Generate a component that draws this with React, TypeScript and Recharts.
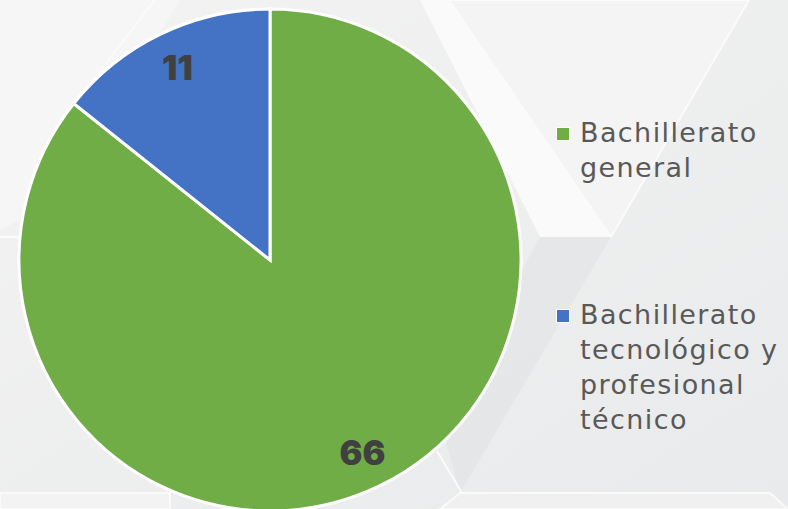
import React from "react";
import { PieChart, Pie, Cell, Legend } from "recharts";

const categories = ["Bachillerato general", "Bachillerato tecnológico y profesional técnico"];
const values = [66, 11];
const colors = ["#70AD47", "#4472C4"];

const data = categories.map((name, i) => ({ name, value: values[i] }));

const RAD = Math.PI / 180;

const renderLabel = (props: any) => {
  const { cx, cy, midAngle, outerRadius, value } = props;
  const r = outerRadius * 0.85;
  const x = cx + r * Math.cos(-midAngle * RAD);
  const y = cy + r * Math.sin(-midAngle * RAD);
  return (
    <text
      x={x}
      y={y}
      fill="#404040"
      textAnchor="middle"
      dominantBaseline="central"
      fontFamily="Inter, 'DejaVu Sans', sans-serif"
      fontWeight={900}
      fontSize={34}
    >
      {value}
    </text>
  );
};

const renderLegend = (props: any) => {
  const { payload } = props;
  return (
    <div style={{ fontFamily: "'DejaVu Sans', sans-serif", fontSize: 27, letterSpacing: "1.4px", color: "#595959", lineHeight: "35px" }}>
      {payload.map((entry: any, i: number) => (
        <div key={i} style={{ display: "flex", alignItems: "flex-start", marginBottom: i === 0 ? 112 : 0 }}>
          <div style={{ width: 12, height: 12, background: entry.color, border: "1.5px solid #fff", marginTop: 12, marginRight: 10, flex: "none" }} />
          <div style={{ width: 205 }}>{entry.value}</div>
        </div>
      ))}
    </div>
  );
};

const Background = () => (
  <svg width={788} height={509} style={{ position: "absolute", left: 0, top: 0 }}>
    <defs>
      <linearGradient id="bg" x1="0" y1="0" x2="1" y2="1">
        <stop offset="0" stopColor="#f3f3f3" />
        <stop offset="1" stopColor="#e9eaeb" />
      </linearGradient>
    </defs>
    <rect x={0} y={0} width={788} height={509} fill="url(#bg)" />
    <polygon points="449,0 749,0 611,237" fill="#f4f4f4" stroke="#fbfbfb" strokeWidth={2} />
    <polygon points="420,0 449,0 611,237 540,237" fill="#fafafa" />
    <polygon points="611,237 540,237 440,420 460,493" fill="#e3e4e5" opacity={0.7} />
    <polygon points="460,493 770,493 788,509 440,509" fill="#f0f0f0" stroke="#fafafa" strokeWidth={2} />
    <polygon points="0,493 170,493 170,509 0,509" fill="#f3f3f3" stroke="#fafafa" strokeWidth={2} />
    <polygon points="0,0 180,0 60,200 0,230" fill="#f6f6f6" />
    <line x1={155} y1={0} x2={70} y2={110} stroke="#fbfbfb" strokeWidth={2} />
    <line x1={0} y1={237} x2={20} y2={237} stroke="#fbfbfb" strokeWidth={2} />
    <line x1={437} y1={451} x2={462} y2={493} stroke="#fbfbfb" strokeWidth={2} />
  </svg>
);

export default function App() {
  return (
    <div style={{ position: "absolute", left: 0, top: 0, width: 788, height: 509, overflow: "hidden" }}>
      <Background />
      <div style={{ position: "absolute", left: 0, top: 0 }}>
        <PieChart width={788} height={509} margin={{ top: 0, right: 0, bottom: 0, left: 0 }}>
          <Pie
            data={data}
            dataKey="value"
            nameKey="name"
            cx={270}
            cy={260}
            outerRadius={251}
            startAngle={90}
            endAngle={-270}
            stroke="#ffffff"
            strokeWidth={3}
            label={renderLabel}
            labelLine={false}
            isAnimationActive={false}
          >
            {data.map((d, i) => (
              <Cell key={d.name} fill={colors[i]} />
            ))}
          </Pie>
          <Legend
            layout="vertical"
            content={renderLegend}
            wrapperStyle={{ position: "absolute", left: 556, top: 115, width: 232 }}
          />
        </PieChart>
      </div>
    </div>
  );
}
